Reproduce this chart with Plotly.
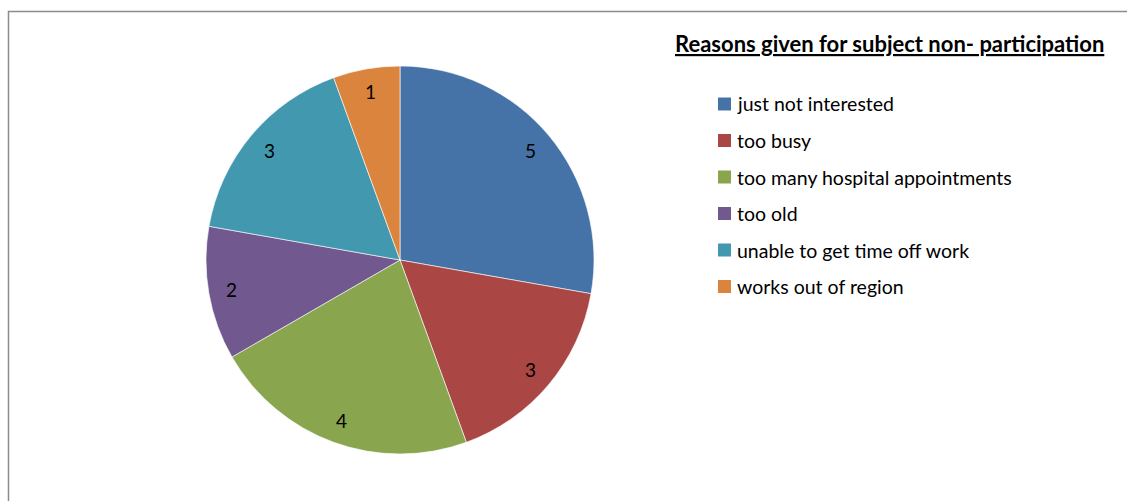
import math
import plotly.graph_objects as go

# Reasons given for subject non-participation
reasons = [
    "just not interested",
    "too busy",
    "too many hospital appointments",
    "too old",
    "unable to get time off work",
    "works out of region",
]
counts = [5, 3, 4, 2, 3, 1]
colors = ["#4572A7", "#AA4643", "#89A54E", "#71588F", "#4198AF", "#DB843D"]

W, H = 1127, 501
cx, cy, r = 400, 260, 194  # pie centre and radius in pixels

fig = go.Figure(
    go.Pie(
        labels=reasons,
        values=counts,
        sort=False,
        direction="clockwise",
        rotation=0,
        marker=dict(colors=colors, line=dict(color="rgba(255,255,255,0.6)", width=1)),
        textinfo="none",
        hoverinfo="label+value",
        showlegend=False,
        domain=dict(x=[(cx - r) / W, (cx + r) / W], y=[(H - cy - r) / H, (H - cy + r) / H]),
    )
)

font = "Lato, 'Open Sans', sans-serif"
annotations = []
shapes = []

# value labels placed along each slice's mid-angle
total = sum(counts)
cum = 0
for v in counts:
    mid = (cum + v / 2) / total * 2 * math.pi
    cum += v
    lx = cx + 0.88 * r * math.sin(mid)
    ly = cy - 0.88 * r * math.cos(mid)
    annotations.append(dict(
        x=lx / W, y=1 - ly / H, xref="paper", yref="paper",
        text=str(v), showarrow=False, font=dict(family=font, size=19, color="#000"),
        xanchor="center", yanchor="middle",
    ))

# title
annotations.append(dict(
    x=889 / W, y=1 - 44 / H, xref="paper", yref="paper",
    text="<b><span style='text-decoration:underline'>Reasons given for subject non- participation</span></b>",
    showarrow=False, font=dict(family=font, size=22, color="#000"),
    xanchor="center", yanchor="middle",
))

# legend
for i, (lab, col) in enumerate(zip(reasons, colors)):
    yc = 104 + i * 36.5
    shapes.append(dict(
        type="rect", xref="paper", yref="paper",
        x0=718 / W, x1=731 / W, y0=1 - (yc - 6.5) / H, y1=1 - (yc + 6.5) / H,
        fillcolor=col, line=dict(width=0),
    ))
    annotations.append(dict(
        x=735 / W, y=1 - yc / H, xref="paper", yref="paper",
        text=lab, showarrow=False, xanchor="left", yanchor="middle",
        font=dict(family=font, size=19.5, color="#000"),
    ))

# chart frame
shapes.append(dict(
    type="rect", xref="paper", yref="paper",
    x0=8.5 / W, x1=1.05, y0=-0.05, y1=1 - 11.5 / H,
    line=dict(color="#8c8c8c", width=1.5), fillcolor="rgba(0,0,0,0)",
))

fig.update_layout(
    width=W, height=H,
    margin=dict(l=0, r=0, t=0, b=0),
    paper_bgcolor="white", plot_bgcolor="white",
    annotations=annotations, shapes=shapes,
)

fig.write_html("out.html")
